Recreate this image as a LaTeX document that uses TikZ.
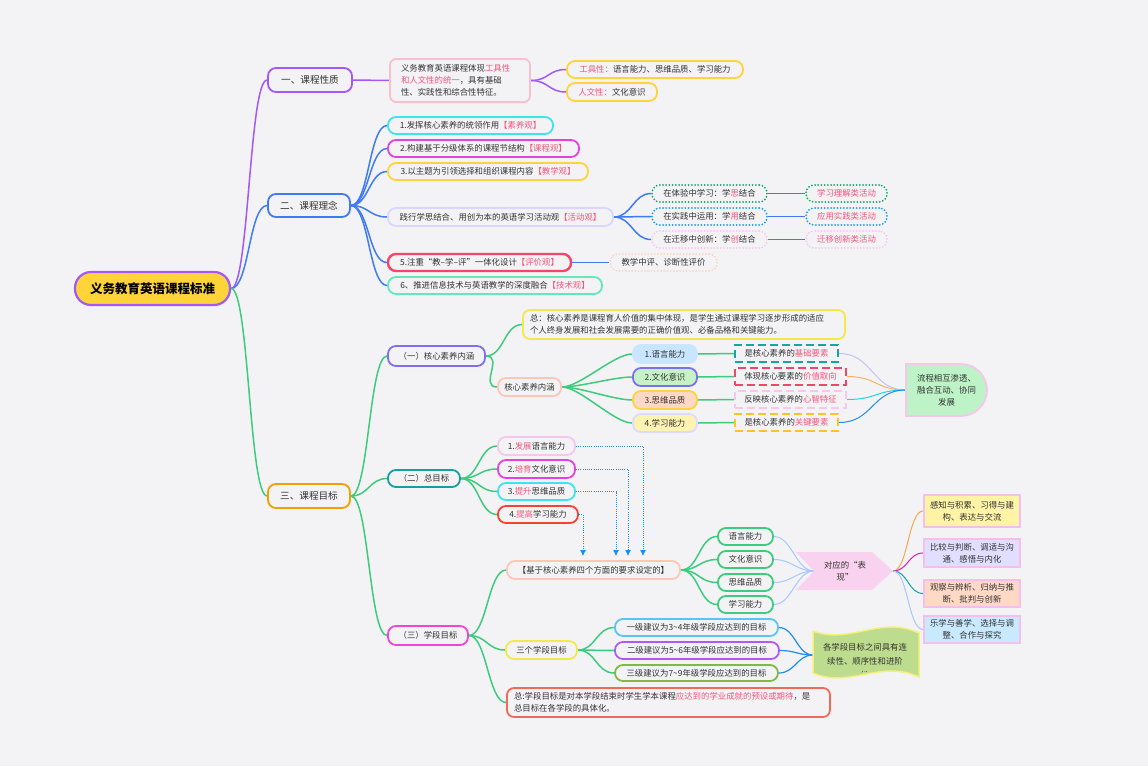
\documentclass[tikz,border=0pt]{standalone}
\usepackage{fontspec}
\setmainfont{Noto Sans CJK SC}
\usetikzlibrary{calc,arrows.meta}
\pgfdeclarelayer{bgl}
\pgfdeclarelayer{lnl}
\pgfsetlayers{bgl,lnl,main}
\definecolor{bgc}{HTML}{F3F3F6}
\definecolor{txt}{HTML}{333333}
\definecolor{purp}{HTML}{A259F5}
\definecolor{rootfill}{HTML}{FFD43B}
\definecolor{blu}{HTML}{3E7BF5}
\definecolor{grn}{HTML}{3DCB7E}
\definecolor{orng}{HTML}{F0A000}
\definecolor{hlred}{HTML}{F2557A}
\definecolor{pinkb}{HTML}{F8C0CC}
\definecolor{yel}{HTML}{FFD43B}
\definecolor{cyanb}{HTML}{3FE3EE}
\definecolor{magb}{HTML}{E342E0}
\definecolor{lavb}{HTML}{D9D6FF}
\definecolor{redb}{HTML}{F2456A}
\definecolor{mintb}{HTML}{5EEBB8}
\definecolor{dgreen}{HTML}{11AA66}
\definecolor{dblue}{HTML}{1A9BF0}
\definecolor{dpink}{HTML}{F6C6EC}
\definecolor{peach}{HTML}{FFD2C0}
\definecolor{gonb}{HTML}{7D6FF0}
\definecolor{tealb}{HTML}{14A0A0}
\definecolor{gthb}{HTML}{EE44D8}
\definecolor{yelb}{HTML}{F2EA4A}
\definecolor{peachb}{HTML}{FFC6B6}
\definecolor{ionef}{HTML}{C8E6FF}
\definecolor{itwof}{HTML}{C6F2C6}
\definecolor{ithrf}{HTML}{FFD9C6}
\definecolor{ifouf}{HTML}{FFF3B0}
\definecolor{ifoub}{HTML}{DCDAFF}
\definecolor{jone}{HTML}{12A8A0}
\definecolor{jfou}{HTML}{FFC21F}
\definecolor{kfill}{HTML}{BDF3C6}
\definecolor{lfoub}{HTML}{F2452F}
\definecolor{arrb}{HTML}{1A8FF0}
\definecolor{mthb}{HTML}{F06A5A}
\definecolor{pfill}{HTML}{F8D2EE}
\definecolor{qonef}{HTML}{FFF3A6}
\definecolor{qtwof}{HTML}{E2DEFF}
\definecolor{qthrf}{HTML}{FFD9C6}
\definecolor{qfouf}{HTML}{C9E9FF}
\definecolor{qb}{HTML}{F6BEEA}
\definecolor{ronb}{HTML}{5BC4F5}
\definecolor{rtwb}{HTML}{B25AF0}
\definecolor{rthb}{HTML}{84B844}
\definecolor{sfill}{HTML}{BDDC8E}
\definecolor{sb}{HTML}{F5F07A}
\definecolor{ckone}{HTML}{C4C2F6}
\definecolor{cktwo}{HTML}{F7B45E}
\definecolor{ckthr}{HTML}{22D3E3}
\definecolor{ckfou}{HTML}{1E8FF0}
\definecolor{cqone}{HTML}{F5A84A}
\definecolor{cqtwo}{HTML}{D61FC8}
\definecolor{cqthr}{HTML}{12A3A0}
\definecolor{cqfou}{HTML}{A9C6FF}
\newcommand\hl[1]{\textcolor{hlred}{#1}}
\newcommand\lk[4][18]{\draw[#2] #3 .. controls +(#1pt,0) and +(-#1pt,0) .. #4;}
\tikzset{
 every node/.style={font=\fontsize{8.4}{12}\selectfont, text=txt, inner sep=0pt, align=center},
 pill/.style={draw=#1, line width=1.8pt, rounded corners=8pt, fill=bgc},
 sz/.style 2 args={minimum width=#1pt, minimum height=#2pt},
 dotb/.style={draw=#1, line width=2pt, dash pattern=on 0pt off 3.2pt, line cap=round, rounded corners=8pt, fill=bgc},
 dashb/.style={draw=#1, line width=2pt, dash pattern=on 8pt off 4pt, fill=bgc},
 cn/.style={draw=#1, line width=1.5pt},
 dotarr/.style={draw=arrb, line width=1pt, dash pattern=on 1pt off 1.2pt, -{Latex[length=6pt,width=6pt]}},
 lone/.style={font=\fontsize{9.6}{12}\selectfont},
}
\begin{document}
\begin{tikzpicture}[x=1pt,y=-1pt]
\begin{pgfonlayer}{bgl}
\fill[bgc] (0,0) rectangle (1148,766);
\end{pgfonlayer}
\useasboundingbox (0,0) rectangle (1148,766);

% root and level 1
\node[pill=purp, fill=rootfill, line width=2.2pt, rounded corners=16pt, sz={155}{33}, font=\fontsize{12.5}{14}\selectfont\bfseries, text=black] (root) at (152.5,288.5) {义务教育英语课程标准};
\node[pill=purp, sz={84}{24}, lone] (n1) at (310,80) {一、课程性质};
\node[pill=blu, sz={82}{23}, lone] (n2) at (309,205.5) {二、课程理念};
\node[pill=orng, sz={82}{24}, lone] (n3) at (309,496) {三、课程目标};

% branch 1
\node[pill=pinkb, rounded corners=6pt, text width=118pt, inner xsep=11pt, align=left, minimum height=43pt] (n1a) at (460,80.5) {义务教育英语课程体现\hl{工具性}\\\hl{和人文性的统一}，具有基础\\性、实践性和综合性特征。};
\node[pill=yel, sz={176}{17}] (n1b) at (655,69.5) {\hl{工具性：}语言能力、思维品质、学习能力};
\node[pill=yel, sz={90}{18}] (n1c) at (612,92) {\hl{人文性：}文化意识};

% branch 2
\node[pill=cyanb, sz={165}{17}] (c1) at (470.5,125.5) {1.发挥核心素养的统领作用\hl{【素养观】}};
\node[pill=magb, sz={191}{17}] (c2) at (483.5,148.5) {2.构建基于分级体系的课程节结构\hl{【课程观】}};
\node[pill=yel, sz={200}{17}] (c3) at (488,171.5) {3.以主题为引领选择和组织课程内容\hl{【教学观】}};
\node[pill=lavb, sz={225}{18}] (c4) at (500.5,217) {践行学思结合、用创为本的英语学习活动观\hl{【活动观】}};
\node[pill=redb, line width=2.4pt, sz={183}{17}] (c5) at (479.5,262.5) {5.注重“教--学--评”一体化设计\hl{【评价观】}};
\node[pill=mintb, sz={214}{17}] (c6) at (495,285.5) {6、推进信息技术与英语教学的深度融合\hl{【技术观】}};
\node[dotb=dgreen, sz={115}{17}] (d1) at (709.5,193.5) {在体验中学习：学\hl{思}结合};
\node[dotb=dblue, sz={115}{17}] (d2) at (709.5,216.5) {在实践中运用：学\hl{用}结合};
\node[dotb=dpink, sz={115}{17}] (d3) at (709.5,239.5) {在迁移中创新：学\hl{创}结合};
\node[dotb=dgreen, sz={81}{17}] (e1) at (846.5,193.5) {\hl{学习理解类活动}};
\node[dotb=dblue, sz={81}{17}] (e2) at (846.5,216.5) {\hl{应用实践类活动}};
\node[dotb=dpink, sz={81}{17}] (e3) at (846.5,239.5) {\hl{迁移创新类活动}};
\node[dotb=peach, sz={107}{17}] (f1) at (663.5,262.5) {教学中评、诊断性评价};

% branch 3 level 2
\node[pill=gonb, sz={97}{20}] (g1) at (436.5,356) {（一）核心素养内涵};
\node[pill=tealb, sz={72}{17}] (g2) at (424,478.5) {（二）总目标};
\node[pill=gthb, sz={80}{19}] (g3) at (428,635.5) {（三）学段目标};

% core literacy
\node[pill=yelb, rounded corners=7pt, text width=308pt, inner xsep=7pt, align=left, minimum height=29pt] (h1) at (684,324.5) {总：核心素养是课程育人价值的集中体现，是学生通过课程学习逐步形成的适应\\个人终身发展和社会发展需要的正确价值观、必备品格和关键能力。};
\node[pill=peachb, sz={63}{18}] (h2) at (529.5,387) {核心素养内涵};
\node[pill=ionef, fill=ionef, sz={64}{18}] (i1) at (665,354) {1.语言能力};
\node[pill=gonb, fill=itwof, sz={64}{18}] (i2) at (665,377) {2.文化意识};
\node[pill=yel, fill=ithrf, sz={64}{18}] (i3) at (665,400) {3.思维品质};
\node[pill=ifoub, fill=ifouf, sz={64}{18}] (i4) at (665,423) {4.学习能力};
\node[dashb=jone, sz={103}{17}] (j1) at (786.5,353.5) {是核心素养的\hl{基础要素}};
\node[dashb=redb, sz={111}{17}] (j2) at (790.5,376.5) {体现核心要素的\hl{价值取向}};
\node[dashb=dpink, sz={111}{17}] (j3) at (790.5,399.5) {反映核心素养的\hl{心智特征}};
\node[dashb=jfou, sz={103}{17}] (j4) at (786.5,422.5) {是核心素养的\hl{关键要素}};
\draw[draw=dpink, fill=kfill, line width=1.8pt] (906,364) -- (961,364) arc[start angle=90, end angle=-90, radius=26pt] -- (906,416) -- cycle;
\node[sz={81}{52}] (k) at (946.5,390) {流程相互渗透、\\融合互动、协同\\发展};

% general goals
\node[pill=dpink, sz={77}{18}] (l1) at (536.5,446) {1.\hl{发展}语言能力};
\node[pill=magb, sz={77}{18}] (l2) at (536.5,469) {2.\hl{培育}文化意识};
\node[pill=cyanb, sz={77}{17}] (l3) at (536.5,491.5) {3.\hl{提升}思维品质};
\node[pill=lfoub, sz={80}{17}] (l4) at (538,514.5) {4.\hl{提高}学习能力};

% stage goals
\node[pill=peachb, sz={173}{18}] (m1) at (593.5,570) {【基于核心素养四个方面的要求设定的】};
\node[pill=yelb, sz={71}{18}] (m2) at (541.5,650) {三个学段目标};
\node[pill=mthb, rounded corners=7pt, text width=309pt, inner xsep=7pt, align=left, minimum height=29pt] (m3) at (668.5,702.5) {总:学段目标是对本学段结束时学生学本课程\hl{应达到的学业成就的预设或期待}，是\\总目标在各学段的具体化。};
\node[pill=grn, sz={55}{17}] (o1) at (745.5,536.5) {语言能力};
\node[pill=grn, sz={55}{17}] (o2) at (745.5,559.5) {文化意识};
\node[pill=grn, sz={55}{17}] (o3) at (745.5,582.5) {思维品质};
\node[pill=grn, sz={55}{17}] (o4) at (745.5,604.5) {学习能力};
\fill[pfill] (796,552) -- (872,552) -- (893,571) -- (872,590) -- (796,590) -- (814,571) -- cycle;
\coordinate (pl) at (814,571);
\coordinate (pr) at (893,571);
\node (p) at (845,571) {对应的“表\\现”};
\node[draw=qb, line width=1.8pt, fill=qonef, sz={96}{32}] (q1) at (972,511) {感知与积累、习得与建\\构、表达与交流};
\node[draw=qb, line width=1.8pt, fill=qtwof, sz={96}{28}] (q2) at (972,553) {比较与判断、调适与沟\\通、感悟与内化};
\node[draw=qb, line width=1.8pt, fill=qthrf, sz={96}{27}] (q3) at (972,593.5) {观察与辨析、归纳与推\\断、批判与创新};
\node[draw=qb, line width=1.8pt, fill=qfouf, sz={96}{27}] (q4) at (972,629.5) {乐学与善学、选择与调\\整、合作与探究};
\node[pill=ronb, sz={163}{17}] (r1) at (696.5,627.5) {一级建议为3\textasciitilde4年级学段应达到的目标};
\node[pill=rtwb, sz={164}{17}] (r2) at (697,650.5) {二级建议为5\textasciitilde6年级学段应达到的目标};
\node[pill=rthb, sz={163}{16}] (r3) at (696.5,673) {三级建议为7\textasciitilde9年级学段应达到的目标};
\path[draw=sb, fill=sfill, line width=1.5pt] (813,631) .. controls (850,645) and (880,615) .. (919,633) -- (919,677) .. controls (880,659) and (850,689) .. (813,673) -- cycle;
\begin{scope}
\clip (813,631) .. controls (850,645) and (880,615) .. (919,633) -- (919,674) .. controls (880,656) and (850,686) .. (813,670) -- cycle;
\node[text width=96pt, font=\fontsize{8.4}{14}\selectfont] (s) at (865,661) {各学段目标之间具有连\\续性、顺序性和进阶\\性};
\end{scope}
\coordinate (sl) at (813,655);

% connectors
\begin{pgfonlayer}{lnl}
\lk{cn=purp}{(root.east)}{(n1.west)}
\lk{cn=blu}{(root.east)}{(n2.west)}
\lk{cn=grn}{(root.east)}{(n3.west)}
\lk{cn=purp}{(n1.east)}{(n1a.west)}
\lk{cn=purp}{(n1a.east)}{(n1b.west)}
\lk{cn=purp}{(n1a.east)}{(n1c.west)}
\foreach \c in {c1,c2,c3,c4,c5,c6}{\lk{cn=blu}{(n2.east)}{(\c.west)}}
\foreach \c in {d1,d2,d3}{\lk{cn=blu}{(c4.east)}{(\c.west)}}
\draw[cn=blu] (d1.east) -- (e1.west);
\draw[cn=blu] (d2.east) -- (e2.west);
\draw[cn=blu] (d3.east) -- (e3.west);
\draw[cn=blu] (c5.east) -- (f1.west);
\foreach \c in {g1,g2,g3}{\lk{cn=grn}{(n3.east)}{(\c.west)}}
\lk{cn=grn}{(g1.east)}{(h1.west)}
\lk{cn=grn}{(g1.east)}{(h2.west)}
\foreach \c in {i1,i2,i3,i4}{\lk{cn=grn}{(h2.east)}{(\c.west)}}
\draw[cn=grn] (i1.east) -- (j1.west);
\draw[cn=grn] (i2.east) -- (j2.west);
\draw[cn=grn] (i3.east) -- (j3.west);
\draw[cn=grn] (i4.east) -- (j4.west);
\lk[34]{draw=ckone, line width=1pt}{(j1.east)}{(k.west)}
\lk[30]{draw=cktwo, line width=1pt}{(j2.east)}{(k.west)}
\lk[30]{draw=ckthr, line width=1pt}{(j3.east)}{(k.west)}
\lk[34]{draw=ckfou, line width=1pt}{(j4.east)}{(k.west)}
\foreach \c in {l1,l2,l3,l4}{\lk{cn=grn}{(g2.east)}{(\c.west)}}
\foreach \c in {m1,m2,m3}{\lk{cn=grn}{(g3.east)}{(\c.west)}}
\foreach \c in {o1,o2,o3,o4}{\lk{cn=grn}{(m1.east)}{(\c.west)}}
\foreach \c in {o1,o2,o3,o4}{\lk{draw=cqfou, line width=1pt}{(\c.east)}{(pl)}}
\lk[15]{draw=cqone, line width=1pt}{(pr)}{(q1.west)}
\lk[15]{draw=cqtwo, line width=1pt}{(pr)}{(q2.west)}
\lk[15]{draw=cqthr, line width=1pt}{(pr)}{(q3.west)}
\lk[15]{draw=cqfou, line width=1pt}{(pr)}{(q4.west)}
\foreach \c in {r1,r2,r3}{\lk{cn=grn}{(m2.east)}{(\c.west)}}
\foreach \c in {r1,r2,r3}{\lk[16]{draw=ckfou, line width=1.2pt}{(\c.east)}{(sl)}}
\end{pgfonlayer}
\draw[dotarr] (l1.east) -| ($(m1.north)+(49.5,-4)$);
\draw[dotarr] (l2.east) -| ($(m1.north)+(34.5,-4)$);
\draw[dotarr] (l3.east) -| ($(m1.north)+(22.5,-4)$);
\draw[dotarr] (l4.east) -| ($(m1.north)+(-10.5,-4)$);
\end{tikzpicture}
\end{document}
